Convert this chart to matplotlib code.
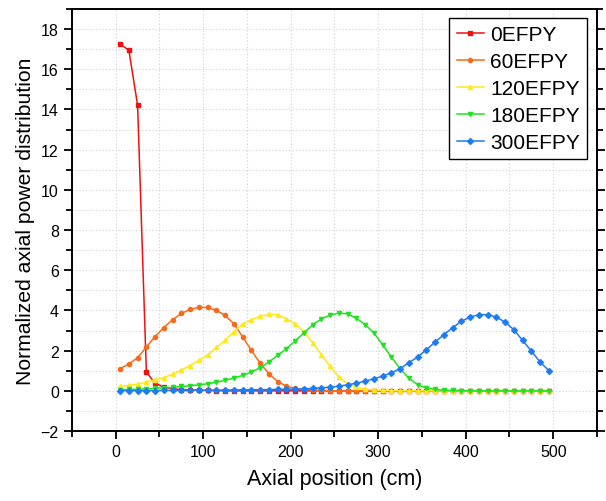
import matplotlib
matplotlib.use('Agg')
import matplotlib.pyplot as plt
from matplotlib.ticker import MultipleLocator

# Axial positions (cm), cell centres every 10 cm
axial_pos = list(range(5, 500, 10))

# Normalized axial power distribution for each burnup step
p_0efpy = [17.25, 16.95, 14.2, 0.93, 0.38, 0.18, 0.10, 0.06, 0.04, 0.03,
           0.02, 0.01] + [0.0] * 38
p_60efpy = [1.10, 1.33, 1.65, 2.18, 2.70, 3.15, 3.54, 3.85, 4.05, 4.15,
            4.15, 4.00, 3.75, 3.34, 2.69, 2.01, 1.38, 0.85, 0.46, 0.23,
            0.12, 0.07, 0.04, 0.02, 0.01] + [0.0] * 25
p_120efpy = [0.22, 0.27, 0.33, 0.43, 0.56, 0.66, 0.83, 1.03, 1.26, 1.51,
             1.79, 2.16, 2.51, 2.94, 3.32, 3.54, 3.72, 3.80, 3.79, 3.59,
             3.34, 2.93, 2.40, 1.80, 1.22, 0.68, 0.35, 0.17, 0.08, 0.04,
             0.02, 0.01] + [0.0] * 18
p_180efpy = [0.06, 0.07, 0.08, 0.10, 0.12, 0.15, 0.17, 0.22, 0.25, 0.30,
             0.35, 0.43, 0.52, 0.63, 0.77, 0.93, 1.15, 1.43, 1.76, 2.09,
             2.48, 2.88, 3.28, 3.58, 3.77, 3.87, 3.83, 3.61, 3.30, 2.88,
             2.29, 1.68, 1.10, 0.63, 0.30, 0.15, 0.07, 0.03, 0.02, 0.01,
             0.01] + [0.0] * 9
p_300efpy = [0.01, 0.01, 0.01, 0.01, 0.01, 0.02, 0.02, 0.02, 0.02, 0.03,
             0.03, 0.03, 0.04, 0.04, 0.05, 0.05, 0.06, 0.06, 0.07, 0.08,
             0.09, 0.10, 0.12, 0.15, 0.18, 0.23, 0.30, 0.38, 0.48, 0.60,
             0.73, 0.90, 1.10, 1.40, 1.68, 2.04, 2.43, 2.79, 3.14, 3.46,
             3.67, 3.79, 3.79, 3.67, 3.42, 3.04, 2.51, 1.98, 1.43, 1.01]

labels = ['0EFPY', '60EFPY', '120EFPY', '180EFPY', '300EFPY']
series = [p_0efpy, p_60efpy, p_120efpy, p_180efpy, p_300efpy]
colors = ['#f01010', '#f86a1a', '#ffe81a', '#22e022', '#1e7bf0']
markers = ['s', 'o', '^', 'v', 'D']

plt.rcParams['font.family'] = ['Liberation Sans', 'DejaVu Sans']

fig = plt.figure(figsize=(6.06, 5.02), dpi=100)
ax = fig.add_axes([0.1188, 0.1394, 0.8663, 0.8407])

for y, lab, c, m in zip(series, labels, colors, markers):
    ax.plot(axial_pos, y, color=c, marker=m, markersize=3, linewidth=1.1,
            label=lab)

# Axis ranges and ticks
ax.set_xlim(-50, 550)
ax.set_ylim(-2, 19)
ax.xaxis.set_major_locator(MultipleLocator(100))
ax.xaxis.set_minor_locator(MultipleLocator(50))
ax.yaxis.set_major_locator(MultipleLocator(2))
ax.yaxis.set_minor_locator(MultipleLocator(1))
ax.tick_params(which='both', direction='out', width=1.3, labelsize=11.5,
               right=True, top=False)
ax.tick_params(which='major', length=6)
ax.tick_params(which='minor', length=4)

# Dotted grid on every major and minor tick
ax.grid(True, which='both', color='#d0d0d0', linestyle=(0, (1, 2)),
        linewidth=0.8)
ax.set_axisbelow(True)

for sp in ax.spines.values():
    sp.set_linewidth(1.4)

ax.set_xlabel('Axial position (cm)', fontsize=15.5, labelpad=6)
ax.set_ylabel('Normalized axial power distribution', fontsize=15.2,
              labelpad=4)

leg = ax.legend(loc='upper right', fontsize=15, fancybox=False,
                framealpha=1, edgecolor='black', handlelength=1.3,
                borderpad=0.35, labelspacing=0.38, handletextpad=0.3,
                borderaxespad=0, bbox_to_anchor=(0.981, 0.979))
leg.get_frame().set_linewidth(1.0)

fig.savefig('out.png', dpi=100)
